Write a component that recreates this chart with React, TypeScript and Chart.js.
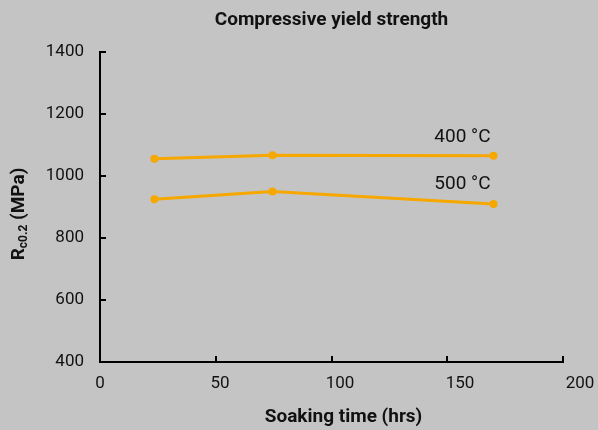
import React, { useEffect, useRef } from "react";
import { Chart, registerables } from "chart.js";

Chart.register(...registerables);

const hours400 = [23.5, 74.5, 170];
const values400 = [1056, 1067, 1065];
const hours500 = [23.5, 74.5, 170];
const values500 = [925, 950, 910];
const seriesLabels = ["400 °C", "500 °C"];
const xTicks = [0, 50, 100, 150, 200];
const yTicks = [400, 600, 800, 1000, 1200, 1400];
const chartTitle = "Compressive yield strength";
const xTitle = "Soaking time (hrs)";

const FONT = "Roboto, 'DejaVu Sans', sans-serif";
const ORANGE = "#f6a800";
const BG = "#c4c4c4";

const customPlugin = {
  id: "custom",
  beforeDraw(chart: any) {
    const { ctx, width, height } = chart;
    ctx.save();
    ctx.fillStyle = BG;
    ctx.fillRect(0, 0, width, height);
    ctx.restore();
  },
  afterDraw(chart: any) {
    const { ctx, chartArea } = chart;
    const xs = chart.scales.x;
    const ys = chart.scales.y;
    ctx.save();
    // inward ticks
    ctx.strokeStyle = "#000";
    ctx.lineWidth = 2;
    xTicks.forEach((t) => {
      if (t === 0) return;
      const px = Math.round(xs.getPixelForValue(t));
      ctx.beginPath();
      ctx.moveTo(px, chartArea.bottom);
      ctx.lineTo(px, chartArea.bottom - 6);
      ctx.stroke();
    });
    yTicks.forEach((t) => {
      if (t === 400) return;
      const py = Math.round(ys.getPixelForValue(t));
      ctx.beginPath();
      ctx.moveTo(chartArea.left, py);
      ctx.lineTo(chartArea.left + 6, py);
      ctx.stroke();
    });
    // x tick labels (slightly spread as in the reference)
    ctx.fillStyle = "#111";
    ctx.font = `17px ${FONT}`;
    ctx.textAlign = "center";
    ctx.textBaseline = "middle";
    xTicks.forEach((t) => {
      const px = xs.getPixelForValue(t) + t * 0.085;
      ctx.fillText(String(t), px, 384);
    });
    // title
    ctx.fillStyle = "#111";
    ctx.font = `bold 19px ${FONT}`;
    ctx.fillText(chartTitle, (chartArea.left + chartArea.right) / 2, 20);
    // x title
    ctx.fillText(xTitle, (chartArea.left + chartArea.right) / 2 + 12, 417);
    // y title with subscript
    ctx.translate(19, 214);
    ctx.rotate(-Math.PI / 2);
    ctx.textAlign = "left";
    const big = `bold 19px ${FONT}`;
    const small = `bold 12px ${FONT}`;
    ctx.font = big;
    const wR = ctx.measureText("R").width;
    ctx.font = small;
    const wSub = ctx.measureText("c0.2").width;
    ctx.font = big;
    const wRest = ctx.measureText(" (MPa)").width;
    let x0 = -(wR + wSub + wRest) / 2;
    ctx.fillText("R", x0, 0);
    x0 += wR;
    ctx.font = small;
    ctx.fillText("c0.2", x0, 5);
    x0 += wSub;
    ctx.font = big;
    ctx.fillText(" (MPa)", x0, 0);
    ctx.restore();

    // series labels
    ctx.save();
    ctx.fillStyle = "#111";
    ctx.font = `19px ${FONT}`;
    ctx.textAlign = "right";
    ctx.textBaseline = "middle";
    const last400 = xs.getPixelForValue(hours400[hours400.length - 1]);
    const y400 = ys.getPixelForValue(values400[values400.length - 1]);
    ctx.fillText(seriesLabels[0], last400 - 3, y400 - 19);
    const last500 = xs.getPixelForValue(hours500[hours500.length - 1]);
    const y500 = ys.getPixelForValue(values500[values500.length - 1]);
    ctx.fillText(seriesLabels[1], last500 - 3, y500 - 20);
    ctx.restore();
  },
};

export default function App() {
  const ref = useRef<HTMLCanvasElement>(null);
  useEffect(() => {
    if (!ref.current) return;
    const chart = new Chart(ref.current, {
      type: "line",
      data: {
        datasets: [
          {
            label: seriesLabels[0],
            data: hours400.map((h, i) => ({ x: h, y: values400[i] })),
            borderColor: ORANGE,
            backgroundColor: ORANGE,
            borderWidth: 3,
            pointRadius: 4,
            pointBorderWidth: 0,
          },
          {
            label: seriesLabels[1],
            data: hours500.map((h, i) => ({ x: h, y: values500[i] })),
            borderColor: ORANGE,
            backgroundColor: ORANGE,
            borderWidth: 3,
            pointRadius: 4,
            pointBorderWidth: 0,
          },
        ],
      },
      options: {
        animation: false,
        responsive: false,
        maintainAspectRatio: false,
        layout: { padding: { top: 52, right: 35, left: 0, bottom: 0 } },
        plugins: {
          legend: { display: false },
          title: { display: false },
          tooltip: { enabled: false },
        },
        scales: {
          x: {
            type: "linear",
            min: 0,
            max: 200,
            afterFit: (s: any) => {
              s.height = 68;
            },
            afterBuildTicks: (s: any) => {
              s.ticks = xTicks.map((v) => ({ value: v }));
            },
            border: { display: true, color: "#000", width: 2 },
            grid: { display: true, drawOnChartArea: false, drawTicks: false, color: "rgba(0,0,0,0)" },
            ticks: { display: false },
          },
          y: {
            type: "linear",
            min: 400,
            max: 1400,
            afterFit: (s: any) => {
              s.width = 100;
            },
            afterBuildTicks: (s: any) => {
              s.ticks = yTicks.map((v) => ({ value: v }));
            },
            border: { display: true, color: "#000", width: 2 },
            grid: { display: true, drawOnChartArea: false, drawTicks: false, color: "rgba(0,0,0,0)" },
            ticks: {
              padding: 16,
              color: "#111",
              font: { family: FONT, size: 17 },
              callback: (v: any) => String(v),
            },
          },
        },
      },
      plugins: [customPlugin],
    });
    return () => chart.destroy();
  }, []);
  return (
    <div style={{ position: "fixed", left: 0, top: 0, width: 598, height: 430 }}>
      <canvas ref={ref} width={598} height={430} style={{ display: "block" }} />
    </div>
  );
}
